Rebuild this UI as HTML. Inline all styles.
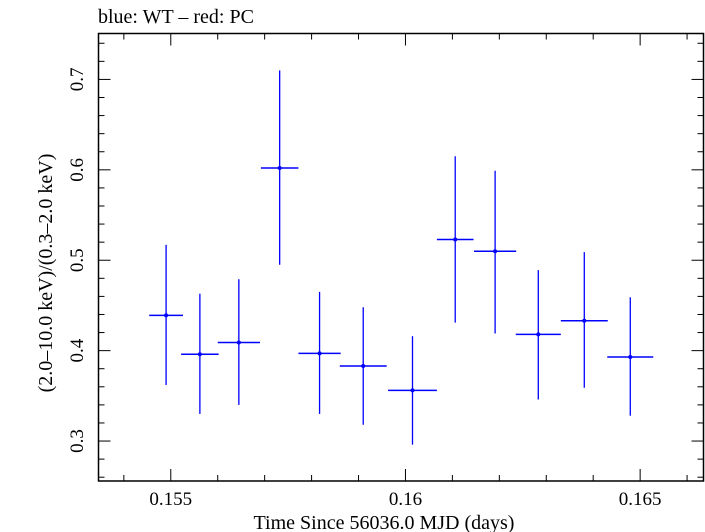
<!DOCTYPE html>
<html><head><meta charset="utf-8"><style>
html,body{margin:0;padding:0;background:#fff;width:705px;height:532px;overflow:hidden}
text{font-family:"Liberation Serif",serif;fill:#000}
</style></head><body>
<svg id="chart" width="705" height="532" viewBox="0 0 705 532" xmlns="http://www.w3.org/2000/svg">
<text x="98" y="23" font-size="20">blue: WT – red: PC</text>
<rect x="98.5" y="33.5" width="605" height="447.5" fill="none" stroke="#000" stroke-width="1.5"/>
<g id="axes"></g>
<g id="marks"></g>
<text x="384" y="529" font-size="20" text-anchor="middle">Time Since 56036.0 MJD (days)</text>
<text transform="translate(52,273) rotate(-90)" font-size="20" text-anchor="middle">(2.0–10.0 keV)/(0.3–2.0 keV)</text>
</svg>
<script>
const times = [0.15490,0.15562,0.15645,0.15732,0.15817,0.15910,0.16015,0.16106,0.16191,0.16283,0.16381,0.16479];
const halfWidths = [0.00036,0.00040,0.00045,0.00040,0.00045,0.00050,0.00052,0.00039,0.00045,0.00048,0.00050,0.00049];
const ratios = [0.439,0.396,0.409,0.602,0.397,0.383,0.356,0.523,0.510,0.418,0.433,0.393];
const errLow = [0.362,0.330,0.340,0.495,0.330,0.318,0.296,0.431,0.419,0.346,0.359,0.328];
const errHigh = [0.517,0.463,0.479,0.710,0.465,0.448,0.416,0.615,0.599,0.489,0.509,0.459];
const xTickLabels = ["0.155","0.16","0.165"];
const yTickLabels = ["0.3","0.4","0.5","0.6","0.7"];

const X0=98.5,X1=703.5,Y0=481,Y1=33.5;
const xMin=0.15346,xMax=0.16635,yMin=0.2558,yMax=0.7508;
const xs=v=>X0+(v-xMin)/(xMax-xMin)*(X1-X0);
const ys=v=>Y0-(v-yMin)/(yMax-yMin)*(Y0-Y1);
const NS="http://www.w3.org/2000/svg";
function mk(tag,attrs,parent){const e=document.createElementNS(NS,tag);for(const k in attrs)e.setAttribute(k,attrs[k]);parent.appendChild(e);return e;}
const axes=document.getElementById('axes'),marks=document.getElementById('marks');

for(let i=0;i<=13;i++){
  const v=0.154+i*0.001; if(v<xMin||v>xMax) continue;
  const major=Math.abs((v*1000)%5)<1e-6||Math.abs((v*1000)%5-5)<1e-6;
  const px=xs(v),len=major?12:6;
  const t1=mk('line',{x1:px,x2:px,y1:Y0,y2:Y0-len,stroke:'#000','stroke-width':1},axes);
  
  
  const t2=mk('line',{x1:px,x2:px,y1:Y1,y2:Y1+len,stroke:'#000','stroke-width':1},axes);
  
  
}
xTickLabels.forEach(l=>{
  const t=mk('text',{x:xs(parseFloat(l)),y:505,'font-size':19,'text-anchor':'middle'},axes);
  t.textContent=l;
  
  
});
for(let i=0;i<=25;i++){
  const v=0.26+i*0.02; if(v<yMin||v>yMax) continue;
  const major=Math.abs(Math.round(v*10)-v*10)<1e-6;
  const py=ys(v),len=major?12:6;
  const t1=mk('line',{x1:X0,x2:X0+len,y1:py,y2:py,stroke:'#000','stroke-width':1},axes);
  
  
  const t2=mk('line',{x1:X1,x2:X1-len,y1:py,y2:py,stroke:'#000','stroke-width':1},axes);
  
  
}
yTickLabels.forEach(l=>{
  const py=ys(parseFloat(l));
  const t=mk('text',{x:0,y:0,'font-size':19,'text-anchor':'middle',transform:`translate(83,${py}) rotate(-90)`},axes);
  t.textContent=l;
  
  
});
times.forEach((t,i)=>{
  const g=mk('g',{},marks);
  
  
  const cx=xs(t),cy=ys(ratios[i]);
  mk('line',{x1:xs(t-halfWidths[i]),x2:xs(t+halfWidths[i]),y1:cy,y2:cy,stroke:'#0000ff','stroke-width':1.5},g);
  mk('line',{x1:cx,x2:cx,y1:ys(errLow[i]),y2:ys(errHigh[i]),stroke:'#0000ff','stroke-width':1.3},g);
  mk('circle',{cx:cx,cy:cy,r:2,fill:'#0000ff'},g);
});
</script>
</body></html>
